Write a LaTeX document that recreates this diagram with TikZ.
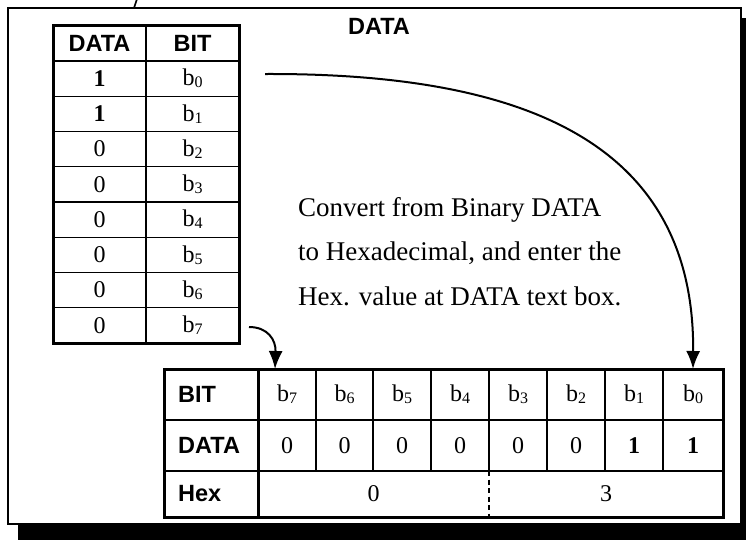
\documentclass[tikz,border=0pt]{standalone}
\usepackage{fontspec}
\setmainfont{Liberation Serif}
\setsansfont{Liberation Sans}
\usetikzlibrary{arrows.meta}

\newcommand{\bitlabel}[1]{b\raisebox{-0.08em}{\fontsize{16}{16}\selectfont #1}}

\begin{document}
\begin{tikzpicture}[x=1pt,y=-1pt,
  hdr/.style={font=\sffamily\bfseries\fontsize{23.5}{23.5}\selectfont, inner sep=0pt},
  val/.style={font=\fontsize{24}{24}\selectfont, inner sep=0pt},
  desc/.style={font=\fontsize{27}{27}\selectfont, inner sep=0pt, anchor=west},
  heavy/.style={line width=3pt},
  grid/.style={line width=1.4pt},
  flow/.style={line width=2pt, -{Latex[length=18pt,width=14pt]}}
]
\useasboundingbox (0,0) rectangle (746,539);
\clip (0,0) rectangle (746,539);

% frame with drop shadow
\fill[black] (18,18) rectangle (770,570);
\draw[line width=2.4pt, fill=white] (8,8) rectangle (741,524);
\draw[line width=1.6pt] (137,-1) -- (134,8);

% title
\node[hdr] (title) at (379,26) {DATA};

% ---- vertical table: DATA / BIT ----
\draw[grid] (146,25) -- (146,343);
\foreach \i in {1,...,7} \draw[grid] (53,61+\i*35.25) -- (239,61+\i*35.25);
\draw[line width=2.2pt] (53,61) -- (239,61);
\draw[heavy] (53,25) rectangle (239,343);
\node[hdr] (vhd) at (99.5,43) {DATA};
\node[hdr] (vhb) at (192.5,43) {BIT};
\foreach \v/\b [count=\i from 0] in {{\bfseries 1}/0,{\bfseries 1}/1,0/2,0/3,0/4,0/5,0/6,0/7}{
  \node[val] (vd\b) at (99.5,78.6+\i*35.25) {\v};
  \node[val] (vb\b) at (192.5,78.6+\i*35.25) {\bitlabel{\b}};
}

% ---- horizontal table: BIT / DATA / Hex ----
\foreach \x in {316,373,431,547,605,663} \draw[grid] (\x,369) -- (\x,471);
\draw[grid] (489,369) -- (489,471);
\draw[grid, dash pattern=on 5pt off 3.5pt] (489,471) -- (489,517);
\draw[grid] (164,420) -- (723,420);
\draw[grid] (164,471) -- (723,471);
\draw[heavy] (258,369) -- (258,517);
\draw[heavy] (164,369) rectangle (723,517);
\node[hdr, anchor=west] (hbit) at (178,394.5) {BIT};
\node[hdr, anchor=west] (hdat) at (178,445.5) {DATA};
\node[hdr, anchor=west] (hhex) at (178,494) {Hex};
\foreach \x/\b/\v in {287/7/0,344.5/6/0,402/5/0,460/4/0,518/3/0,576/2/0,634/1/{\bfseries 1},693/0/{\bfseries 1}}{
  \node[val] (hb\b) at (\x,394.5) {\bitlabel{\b}};
  \node[val] (hd\b) at (\x,445.5) {\v};
}
\node[val] (hexhi) at (373.5,494) {0};
\node[val] (hexlo) at (606,494) {3};

% explanation
\node[desc] (d1) at (298,210) {Convert from Binary DATA};
\node[desc] (d2) at (298,253) {to Hexadecimal, and enter the};
\node[desc] (d3) at (298,296) {Hex. value at DATA text box.};

% connectors
\coordinate (srcA) at (265,74);
\coordinate (dstA) at (693,369);
\coordinate (srcB) at (249,327);
\coordinate (dstB) at (275,369);
\draw[flow] (srcA) .. controls (520,73) and (695,140) .. (dstA);
\draw[flow] (srcB) .. controls (268,327) and (276,340) .. (dstB);
\end{tikzpicture}
\end{document}
